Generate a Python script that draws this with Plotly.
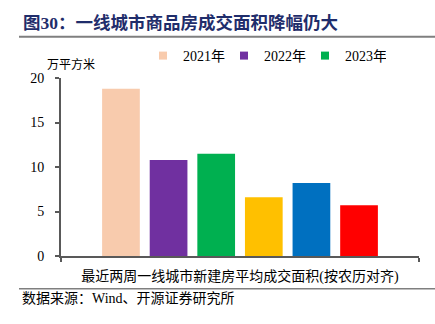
import plotly.graph_objects as go

# ---- data ----
category = ["最近两周一线城市新建房平均成交面积(按农历对齐)"]
series_names = ["2021年", "2022年", "2023年", "", "", ""]
series_values = [18.8, 10.8, 11.5, 6.6, 8.2, 5.7]
series_colors = ["#F8CBAD", "#7030A0", "#00B050", "#FFC000", "#0070C0", "#FF0000"]
legend_count = 3
y_ticks = [0, 5, 10, 15, 20]

title_text = "图30：一线城市商品房成交面积降幅仍大"
y_unit = "万平方米"
source_text = "数据来源：Wind、开源证券研究所"

FONT = "Liberation Serif, Times New Roman, Noto Sans CJK SC, serif"
AXIS_COLOR = "#595959"

W, H = 435, 324
L, R, T, B = 61, 16, 78, 68
PW, PH = W - L - R, H - T - B


def px(x):
    return (x - L) / PW


def py(y):
    return (H - B - y) / PH


fig = go.Figure()
for i, (name, val, col) in enumerate(zip(series_names, series_values, series_colors)):
    fig.add_trace(go.Bar(
        x=category, y=[val], name=name or f"s{i}", marker_color=col,
        marker_line_width=0, showlegend=False, legendgroup=f"g{i}",
    ))
# legend entries (small square markers, like the reference)
for i in range(legend_count):
    fig.add_trace(go.Scatter(
        x=[None], y=[None], mode="markers", name=series_names[i],
        marker=dict(symbol="square", size=8, color=series_colors[i]),
        legendgroup=f"g{i}", showlegend=True,
    ))

fig.update_layout(
    width=W, height=H,
    margin=dict(l=L, r=R, t=T, b=B, autoexpand=False),
    paper_bgcolor="white", plot_bgcolor="white",
    font=dict(family=FONT, size=14, color="#000000"),
    barmode="group", bargap=0.202, bargroupgap=0.208,
    showlegend=True,
    legend=dict(
        orientation="h", xref="container", yref="container",
        x=143 / W, y=1 - 56 / H, xanchor="left", yanchor="middle",
        font=dict(family=FONT, size=14), itemwidth=30,
        bgcolor="rgba(0,0,0,0)", tracegroupgap=0, entrywidth=36,
    ),
    xaxis=dict(
        type="category", showline=True, linecolor=AXIS_COLOR, linewidth=2,
        ticks="outside", tickson="boundaries", ticklen=4, tickcolor=AXIS_COLOR,
        tickwidth=1.5, showgrid=False, zeroline=False,
        tickfont=dict(family=FONT, size=14), ticklabelstandoff=6,
    ),
    yaxis=dict(
        range=[0, 20], tickvals=y_ticks, showline=True, linecolor=AXIS_COLOR,
        linewidth=2, ticks="outside", ticklen=4, tickcolor=AXIS_COLOR,
        tickwidth=1.5, showgrid=False, zeroline=False,
        tickfont=dict(family=FONT, size=14), ticklabelstandoff=8,
    ),
)

annos = [
    dict(text=f"<b>{title_text}</b>", xref="paper", yref="paper",
         x=px(21), y=py(23), xanchor="left", yanchor="middle",
         showarrow=False, font=dict(family=FONT, size=17.5, color="#1F2D6B")),
    dict(text=y_unit, xref="paper", yref="paper",
         x=px(71), y=py(65), xanchor="center", yanchor="middle",
         showarrow=False, font=dict(family=FONT, size=12, color="#000000")),
    dict(text=source_text, xref="paper", yref="paper",
         x=px(20), y=py(298), xanchor="left", yanchor="middle",
         showarrow=False, font=dict(family=FONT, size=14, color="#000000")),
]
fig.update_layout(annotations=annos)

shapes = [
    dict(type="line", xref="paper", yref="paper",
         x0=px(19), x1=px(W), y0=py(36.7), y1=py(36.7),
         line=dict(color="#7F7F7F", width=2)),
    dict(type="line", xref="paper", yref="paper",
         x0=px(19), x1=px(W), y0=py(288.7), y1=py(288.7),
         line=dict(color="#7F7F7F", width=1.5)),
]
fig.update_layout(shapes=shapes)

fig.write_html("out.html")
